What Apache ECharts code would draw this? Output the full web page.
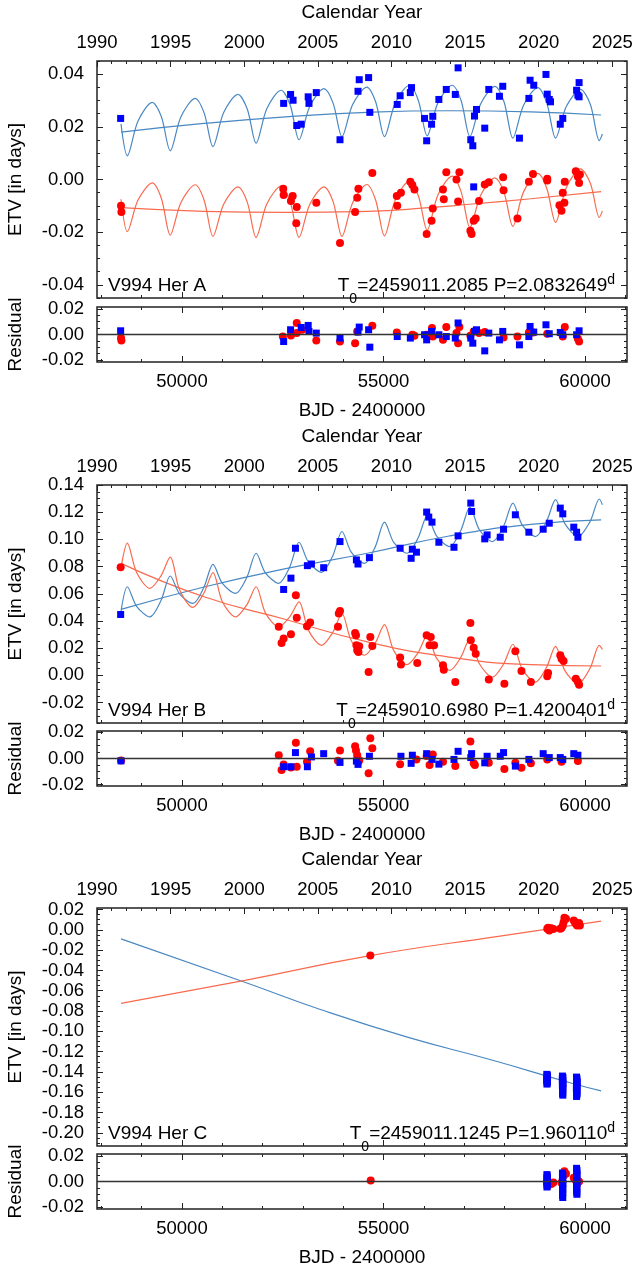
<!DOCTYPE html>
<html>
<head>
<meta charset="utf-8">
<title>V994 Her ETV</title>
<script src="https://cdn.jsdelivr.net/npm/echarts@6.0.0/dist/echarts.min.js"></script>
<style>
  html, body { margin: 0; padding: 0; background: #fff; }
  #chart { width: 637px; height: 1270px; }
</style>
</head>
<body>
<div id="chart"></div>
<script>
// x ranges: BJD - 2400000 on the bottom, calendar year on top (1990.0 .. 2026.0)
var bjdMin = 47892.5, bjdMax = 61041.5;
var yearMin = 1990, yearMax = 2026;
var bjdTicks = [50000, 55000, 60000];
var yearTicks = [1990, 1995, 2000, 2005, 2010, 2015, 2020, 2025];
var resTicks = [-0.02, 0, 0.02];
var etvTicksA = [-0.04, -0.02, 0, 0.02, 0.04];
var etvTicksB = [-0.02, 0, 0.02, 0.04, 0.06, 0.08, 0.10, 0.12, 0.14];
var etvTicksC = [-0.20, -0.18, -0.16, -0.14, -0.12, -0.10, -0.08, -0.06, -0.04, -0.02, 0, 0.02];

// ---- V994 Her A ----
var aBlueSq = [[48479,0.0232],[52523,0.0289],[52695,0.0323],[52757,0.0301],[52848,0.0205],[52958,0.0210],[53132,0.0314],[53151,0.0289],[53333,0.0330],[53921,0.0151],[54368,0.0335],[54398,0.0379],[54631,0.0387],[54661,0.0255],[55341,0.0285],[55413,0.0318],[55666,0.0330],[55696,0.0349],[56019,0.0232],[56071,0.0147],[56193,0.0210],[56223,0.0240],[56374,0.0304],[56558,0.0342],[56782,0.0323],[56851,0.0424],[57166,0.0151],[57216,0.0128],[57258,0.0241],[57308,0.0266],[57238,-0.0028],[57512,0.0195],[57613,0.0342],[57877,0.0316],[57959,0.0354],[58373,0.0157],[58607,0.0308],[58637,0.0377],[58728,0.0358],[59031,0.0399],[59063,0.0324],[59113,0.0304],[59143,0.0295],[59386,0.0210],[59448,0.0232],[59791,0.0339],[59823,0.0320],[59853,0.0368],[59853,0.0314]];
var aRedCi = [[48488,-0.0100],[48498,-0.0123],[52513,-0.0035],[52523,-0.0059],[52704,-0.0082],[52747,-0.0063],[52848,-0.0104],[52836,-0.0166],[53333,-0.0088],[53921,-0.0241],[54296,-0.0123],[54348,-0.0069],[54378,-0.0035],[54723,0.0025],[55331,-0.0063],[55341,-0.0100],[55433,-0.0050],[55666,-0.0009],[55716,-0.0021],[55768,-0.0038],[56071,-0.0207],[56193,-0.0157],[56223,-0.0110],[56476,-0.0038],[56496,-0.0075],[56558,0.0028],[56811,0.0000],[56851,-0.0084],[56883,0.0028],[57156,-0.0195],[57186,-0.0207],[57238,-0.0157],[57288,-0.0148],[57370,-0.0082],[57512,-0.0019],[57613,-0.0010],[57969,0.0009],[57979,-0.0041],[58324,-0.0148],[58607,-0.0009],[58709,0.0021],[59063,0.0003],[59063,-0.0004],[59366,-0.0098],[59416,-0.0119],[59448,-0.0050],[59488,-0.0088],[59498,-0.0009],[59771,0.0031],[59823,0.0010],[59853,-0.0013],[59873,0.0019]];
var aBlueFit = [[48488,0.0211],[48645,0.0090],[48910,0.0222],[49263,0.0293],[49490,0.0238],[49710,0.0109],[49975,0.0238],[50328,0.0308],[50550,0.0253],[50770,0.0125],[51035,0.0254],[51388,0.0323],[51620,0.0268],[51840,0.0138],[52105,0.0269],[52458,0.0339],[52685,0.0283],[52905,0.0151],[53170,0.0277],[53523,0.0345],[53750,0.0290],[53970,0.0163],[54235,0.0285],[54588,0.0351],[54805,0.0295],[55025,0.0163],[55290,0.0290],[55643,0.0358],[55865,0.0300],[56085,0.0166],[56350,0.0291],[56703,0.0358],[56925,0.0300],[57145,0.0163],[57410,0.0287],[57763,0.0354],[57990,0.0295],[58210,0.0157],[58475,0.0282],[58828,0.0349],[59050,0.0291],[59270,0.0157],[59535,0.0277],[59888,0.0342],[60135,0.0284],[60355,0.0148],[60431,0.0173]];
var aRedFit = [[48488,-0.0075],[48645,-0.0198],[48910,-0.0078],[49263,-0.0013],[49490,-0.0072],[49710,-0.0211],[49975,-0.0087],[50328,-0.0020],[50550,-0.0079],[50770,-0.0216],[51035,-0.0094],[51388,-0.0028],[51620,-0.0086],[51840,-0.0220],[52105,-0.0093],[52458,-0.0025],[52685,-0.0084],[52905,-0.0220],[53170,-0.0095],[53523,-0.0028],[53750,-0.0084],[53970,-0.0216],[54235,-0.0088],[54588,-0.0019],[54805,-0.0078],[55025,-0.0214],[55290,-0.0079],[55643,-0.0006],[55865,-0.0062],[56085,-0.0192],[56350,-0.0059],[56703,0.0013],[56925,-0.0046],[57145,-0.0182],[57410,-0.0060],[57763,0.0006],[57990,-0.0049],[58210,-0.0178],[58475,-0.0047],[58828,0.0023],[59050,-0.0033],[59270,-0.0163],[59535,-0.0031],[59888,0.0040],[60135,-0.0015],[60355,-0.0144],[60431,-0.0119]];
var aBlueTrend = [[48488,0.0180],[50547,0.0213],[52573,0.0238],[54601,0.0255],[56630,0.0261],[58656,0.0257],[60399,0.0245]];
var aRedTrend = [[48488,-0.0107],[50547,-0.0121],[52573,-0.0125],[54601,-0.0121],[56123,-0.0107],[57136,-0.0094],[58656,-0.0073],[60399,-0.0046]];
var aRedRes = [[48488,-0.0028],[48498,-0.0047],[52503,-0.0016],[52704,-0.0008],[52848,0.0090],[52848,0.0011],[52980,0.0037],[53333,-0.0047],[53921,-0.0055],[54296,-0.0068],[54348,0.0024],[54723,0.0068],[55331,0.0016],[55716,-0.0002],[55768,-0.0010],[56071,-0.0002],[56203,0.0050],[56223,-0.0016],[56476,-0.0042],[56558,0.0058],[56811,0.0011],[56851,-0.0068],[56883,0.0058],[57156,-0.0010],[57238,0.0024],[57370,0.0011],[57512,0.0019],[57979,-0.0024],[58324,-0.0016],[58607,0.0016],[58709,0.0016],[59063,0.0006],[59448,-0.0016],[59498,0.0058],[59823,-0.0034],[59853,-0.0055]];
var aBlueRes = [[48479,0.0029],[52523,-0.0055],[52695,0.0037],[52958,0.0055],[53132,0.0071],[53151,0.0024],[53333,0.0011],[53921,-0.0028],[54368,0.0019],[54398,0.0058],[54631,0.0037],[54661,-0.0099],[55341,-0.0016],[55666,-0.0028],[56019,-0.0002],[56071,-0.0042],[56193,0.0024],[56374,-0.0002],[56558,-0.0016],[56782,-0.0028],[56851,0.0090],[57166,-0.0028],[57216,-0.0068],[57258,0.0024],[57308,0.0037],[57512,-0.0128],[57613,0.0011],[57877,-0.0042],[57959,0.0024],[58373,-0.0081],[58607,-0.0016],[58637,0.0063],[58728,0.0019],[59031,0.0076],[59113,0.0006],[59386,0.0016],[59448,-0.0002],[59791,-0.0002],[59853,0.0029]];

// ---- V994 Her B ----
var bBlueSq = [[48479,0.0448],[52523,0.0632],[52704,0.0715],[52816,0.0935],[53112,0.0807],[53213,0.0819],[53516,0.0792],[53921,0.0984],[54328,0.0849],[54368,0.0819],[54651,0.0866],[55413,0.0935],[55686,0.0861],[55716,0.0928],[55818,0.0906],[56071,0.1201],[56123,0.1164],[56203,0.1127],[56374,0.0979],[56749,0.0942],[56851,0.1026],[57166,0.1267],[57186,0.1205],[57512,0.1004],[57571,0.1033],[57897,0.1016],[57979,0.1075],[58272,0.1181],[58607,0.1053],[58962,0.1075],[59113,0.1119],[59386,0.1230],[59448,0.1188],[59721,0.1090],[59791,0.1053],[59823,0.1016]];
var bRedCi = [[48479,0.0795],[52402,0.0357],[52471,0.0238],[52523,0.0271],[52704,0.0303],[52826,0.0590],[52848,0.0423],[53102,0.0362],[53181,0.0389],[53871,0.0357],[53891,0.0455],[53921,0.0474],[54296,0.0312],[54318,0.0295],[54328,0.0221],[54348,0.0185],[54378,0.0172],[54398,0.0214],[54631,0.0025],[54673,0.0283],[54723,0.0216],[55413,0.0131],[55433,0.0081],[55838,0.0091],[56071,0.0295],[56173,0.0283],[56143,0.0221],[56255,0.0221],[56476,0.0074],[56496,0.0042],[56782,-0.0049],[57156,0.0386],[57166,0.0258],[57238,0.0204],[57288,0.0160],[57613,-0.0030],[57999,-0.0061],[58272,0.0177],[58423,0.0032],[58656,-0.0049],[59063,-0.0007],[59083,0.0017],[59386,0.0148],[59416,0.0123],[59468,0.0106],[59771,-0.0024],[59823,-0.0049],[59853,-0.0069]];
var bBlueFit = [[48488,0.0470],[48645,0.0652],[48875,0.0508],[49205,0.0430],[49480,0.0550],[49710,0.0731],[49940,0.0600],[50270,0.0529],[50540,0.0644],[50770,0.0817],[51000,0.0678],[51330,0.0603],[51610,0.0721],[51840,0.0898],[52070,0.0754],[52400,0.0677],[52675,0.0798],[52905,0.0979],[53135,0.0835],[53465,0.0758],[53740,0.0878],[53970,0.1058],[54200,0.0906],[54530,0.0824],[54795,0.0945],[55025,0.1127],[55255,0.0978],[55585,0.0898],[55855,0.1008],[56085,0.1173],[56315,0.1026],[56645,0.0947],[56915,0.1063],[57145,0.1238],[57375,0.1073],[57705,0.0984],[57980,0.1097],[58210,0.1267],[58440,0.1107],[58770,0.1021],[59040,0.1129],[59270,0.1292],[59500,0.1116],[59830,0.1021],[60125,0.1131],[60355,0.1297],[60431,0.1255]];
var bRedFit = [[48488,0.0790],[48645,0.0972],[48875,0.0756],[49205,0.0640],[49480,0.0732],[49710,0.0869],[49940,0.0629],[50270,0.0500],[50540,0.0602],[50770,0.0755],[51000,0.0544],[51330,0.0430],[51610,0.0519],[51840,0.0652],[52070,0.0460],[52400,0.0357],[52675,0.0431],[52905,0.0541],[53135,0.0333],[53465,0.0221],[53740,0.0315],[53970,0.0455],[54200,0.0255],[54530,0.0148],[54795,0.0238],[55025,0.0374],[55255,0.0182],[55585,0.0079],[55855,0.0165],[56085,0.0295],[56315,0.0127],[56645,0.0037],[56915,0.0131],[57145,0.0271],[57375,0.0087],[57705,-0.0012],[57980,0.0084],[58210,0.0229],[58440,0.0048],[58770,-0.0049],[59040,0.0056],[59270,0.0214],[59500,0.0035],[59830,-0.0061],[60125,0.0052],[60355,0.0221],[60431,0.0190]];
var bBlueTrend = [[48488,0.0485],[50547,0.0650],[52573,0.0785],[54601,0.0898],[56630,0.1025],[58656,0.1110],[60399,0.1144]];
var bRedTrend = [[48488,0.0824],[50547,0.0578],[52573,0.0411],[54601,0.0246],[56630,0.0135],[58656,0.0079],[60399,0.0069]];
var bRedRes = [[48488,-0.0015],[52402,0.0025],[52471,-0.0088],[52523,-0.0045],[52704,-0.0068],[52826,0.0120],[52848,-0.0063],[53102,-0.0025],[53181,0.0055],[53871,-0.0018],[53921,0.0062],[54296,0.0094],[54318,0.0062],[54348,0.0025],[54378,-0.0025],[54398,-0.0013],[54631,-0.0112],[54673,0.0155],[54723,0.0079],[55413,-0.0043],[55818,-0.0007],[56071,0.0019],[56143,-0.0050],[56223,0.0030],[56476,-0.0025],[56782,-0.0058],[57156,0.0130],[57238,-0.0037],[57268,-0.0050],[57613,-0.0033],[57999,-0.0080],[58272,-0.0033],[58423,-0.0070],[58656,-0.0037],[59063,-0.0007],[59416,-0.0025],[59823,-0.0020]];
var bBlueRes = [[48488,-0.0018],[52523,-0.0063],[52704,-0.0063],[52816,0.0045],[53112,-0.0063],[53213,0.0012],[53516,0.0037],[53921,-0.0030],[54328,-0.0020],[54368,-0.0045],[54651,0.0017],[55433,0.0017],[55686,-0.0037],[55716,0.0025],[56071,0.0037],[56203,-0.0007],[56374,-0.0043],[56749,-0.0007],[56851,0.0055],[57166,0.0007],[57186,0.0037],[57512,-0.0033],[57571,0.0017],[57897,0.0017],[57979,0.0045],[58272,-0.0058],[58607,-0.0007],[58962,0.0037],[59113,0.0007],[59386,0.0007],[59448,-0.0007],[59721,0.0037],[59823,0.0025]];

// ---- V994 Her C ----
var cBlueSq = [[59052,-0.1424],[59066,-0.1433],[59058,-0.1446],[59070,-0.1455],[59055,-0.1468],[59063,-0.1477],[59050,-0.1489],[59068,-0.1498],[59060,-0.1509],[59057,-0.1520],
  [59440,-0.1441],[59452,-0.1456],[59436,-0.1472],[59449,-0.1486],[59443,-0.1503],[59455,-0.1518],[59438,-0.1534],[59447,-0.1549],[59451,-0.1566],[59441,-0.1582],[59446,-0.1598],[59444,-0.1613],[59449,-0.1629],
  [59788,-0.1451],[59800,-0.1467],[59794,-0.1484],[59806,-0.1499],[59791,-0.1516],[59797,-0.1531],[59803,-0.1548],[59786,-0.1563],[59798,-0.1580],[59793,-0.1595],[59801,-0.1611],[59796,-0.1626],[59790,-0.1642]];
var cRedCi = [[54673,-0.0254],[59063,0.0010],[59083,0.0021],[59113,-0.0006],[59163,0.0015],[59215,0.0007],[59386,0.0010],[59416,0.0018],[59448,0.0040],[59468,0.0075],[59488,0.0119],[59528,0.0109],[59721,0.0092],[59751,0.0075],[59771,0.0059],[59803,0.0043],[59853,0.0066],[59873,0.0043]];
var cBlueFit = [[48488,-0.0089],[51560,-0.0517],[53435,-0.0785],[55614,-0.1060],[57643,-0.1278],[59672,-0.1512],[60399,-0.1587]];
var cRedFit = [[48488,-0.0725],[51560,-0.0498],[54673,-0.0254],[57891,-0.0062],[60399,0.0085]];
var cRedRes = [[54683,0.0008],[59063,-0.0005],[59113,-0.0012],[59163,-0.0020],[59215,-0.0008],[59416,-0.0010],[59468,0.0044],[59488,0.0081],[59528,0.0060],[59721,0.0030],[59771,0.0010],[59803,-0.0005],[59853,0.0000]];
var cBlueRes = [[59055,0.0054],[59064,0.0043],[59058,0.0031],[59061,0.0020],[59067,0.0009],[59053,-0.0002],[59062,-0.0013],[59059,-0.0024],[59065,-0.0034],[59056,-0.0043],
  [59440,0.0066],[59450,0.0050],[59443,0.0033],[59447,0.0017],[59438,0.0001],[59452,-0.0015],[59445,-0.0031],[59441,-0.0047],[59449,-0.0063],[59444,-0.0079],[59446,-0.0094],[59442,-0.0110],[59448,-0.0125],
  [59790,0.0103],[59800,0.0086],[59795,0.0069],[59803,0.0052],[59788,0.0035],[59797,0.0018],[59792,0.0001],[59801,-0.0016],[59794,-0.0033],[59798,-0.0050],[59791,-0.0067],[59796,-0.0084],[59799,-0.0100]];

var panels = [
  { name: 'V994 Her A', t0: '2459011.2085', per: '2.0832649', yMin: -0.045, yMax: 0.045, yTicks: etvTicksA, rLim: 0.0215, top: 61, h: 237, rTop: 307,
    sq: aBlueSq, ci: aRedCi, blueFit: aBlueFit, redFit: aRedFit, blueTrend: aBlueTrend, redTrend: aRedTrend, sqRes: aBlueRes, ciRes: aRedRes },
  { name: 'V994 Her B', t0: '2459010.6980', per: '1.4200401', yMin: -0.035, yMax: 0.14, yTicks: etvTicksB, rLim: 0.021, top: 485, h: 238, rTop: 731,
    sq: bBlueSq, ci: bRedCi, blueFit: bBlueFit, redFit: bRedFit, blueTrend: bBlueTrend, redTrend: bRedTrend, sqRes: bBlueRes, ciRes: bRedRes },
  { name: 'V994 Her C', t0: '2459011.1245', per: '1.960110', yMin: -0.213, yMax: 0.0215, yTicks: etvTicksC, rLim: 0.0215, top: 908, h: 238, rTop: 1154,
    sq: cBlueSq, ci: cRedCi, blueFit: cBlueFit, redFit: cRedFit, blueTrend: null, redTrend: null, sqRes: cBlueRes, ciRes: cRedRes }
];

var FONT = '"Liberation Sans", Arial, Helvetica, sans-serif';
var RES_H = 55;
var BLUE_LINE = '#4a88c2', RED_LINE = '#f86a4e';

function steps(a, b, step) {
  var r = [];
  for (var k = Math.ceil(a / step - 1e-9); k * step <= b + 1e-9; k++) r.push(+(k * step).toFixed(6));
  return r;
}
var bjdMinor = steps(bjdMin, bjdMax, 1000);
var yearMinor = steps(yearMin, yearMax - 0.5, 1);

function fmtInt(v) { return String(Math.round(v)); }
function fmt2(v) { return (Math.abs(v) < 1e-9 ? 0 : v).toFixed(2); }

function ax(grid, pos, min, max, ticks, len, labels, fmt, margin) {
  var a = {
    type: 'value', gridIndex: grid, position: pos, min: min, max: max,
    axisLine: { show: false, onZero: false },
    splitLine: { show: false },
    axisTick: { show: true, inside: true, length: len, customValues: ticks, lineStyle: { color: '#222', width: 1 } },
    axisLabel: { show: false }
  };
  if (labels) {
    a.axisLabel = { show: true, customValues: labels, formatter: fmt, margin: margin,
      fontSize: 18.5, fontFamily: FONT, color: '#000' };
  }
  return a;
}

var grids = [], xAxes = [], yAxes = [], series = [], texts = [];

function lineS(data, color, g, smooth) {
  return { type: 'line', data: data, xAxisIndex: 4 * g, yAxisIndex: 4 * g, symbol: 'none', showSymbol: false,
    smooth: smooth, silent: true, z: 2, lineStyle: { color: color, width: 1.2 } };
}
function dotS(data, square, g) {
  return { type: 'scatter', data: data, xAxisIndex: 4 * g, yAxisIndex: 4 * g, silent: true, z: square ? 4 : 3,
    symbol: square ? 'rect' : 'circle', symbolSize: square ? 7 : 8,
    itemStyle: { color: square ? '#0000ff' : '#ff0000', opacity: 1 } };
}
function text(x, y, str, extra) {
  var el = { type: 'text', x: x, y: y, silent: true,
    style: { text: str, fontSize: 19, fontFamily: FONT, fill: '#000', align: 'center', verticalAlign: 'middle' } };
  for (var k in extra) {
    if (k === 'style') { for (var s in extra.style) el.style[s] = extra.style[s]; }
    else el[k] = extra[k];
  }
  return el;
}

panels.forEach(function (p, i) {
  var gm = 2 * i, gr = 2 * i + 1;
  var bottom = p.top + p.h, rBottom = p.rTop + RES_H;
  grids.push({ left: 97, width: 530, top: p.top, height: p.h, show: true, borderColor: '#222', borderWidth: 1.5, outerBoundsMode: 'none' });
  grids.push({ left: 97, width: 530, top: p.rTop, height: RES_H, show: true, borderColor: '#222', borderWidth: 1.5, outerBoundsMode: 'none' });

  // main panel axes
  xAxes.push(ax(gm, 'bottom', bjdMin, bjdMax, bjdTicks, 6));
  xAxes.push(ax(gm, 'bottom', bjdMin, bjdMax, bjdMinor, 3));
  xAxes.push(ax(gm, 'top', yearMin, yearMax, yearTicks, 6, yearTicks, fmtInt, 9));
  xAxes.push(ax(gm, 'top', yearMin, yearMax, yearMinor, 3));
  var yMinor = steps(p.yMin, p.yMax, 0.005);
  yAxes.push(ax(gm, 'left', p.yMin, p.yMax, p.yTicks, 6, p.yTicks, fmt2, 13));
  yAxes.push(ax(gm, 'left', p.yMin, p.yMax, yMinor, 3));
  yAxes.push(ax(gm, 'right', p.yMin, p.yMax, p.yTicks, 6));
  yAxes.push(ax(gm, 'right', p.yMin, p.yMax, yMinor, 3));

  // residual panel axes
  xAxes.push(ax(gr, 'bottom', bjdMin, bjdMax, bjdTicks, 6, bjdTicks, fmtInt, 10));
  xAxes.push(ax(gr, 'bottom', bjdMin, bjdMax, bjdMinor, 3));
  xAxes.push(ax(gr, 'top', bjdMin, bjdMax, bjdTicks, 6));
  xAxes.push(ax(gr, 'top', bjdMin, bjdMax, bjdMinor, 3));
  var rMinor = steps(-p.rLim, p.rLim, 0.005);
  yAxes.push(ax(gr, 'left', -p.rLim, p.rLim, resTicks, 6, resTicks, fmt2, 13));
  yAxes.push(ax(gr, 'left', -p.rLim, p.rLim, rMinor, 3));
  yAxes.push(ax(gr, 'right', -p.rLim, p.rLim, resTicks, 6));
  yAxes.push(ax(gr, 'right', -p.rLim, p.rLim, rMinor, 3));

  // main series
  if (p.blueTrend) series.push(lineS(p.blueTrend, BLUE_LINE, gm, true));
  if (p.redTrend) series.push(lineS(p.redTrend, RED_LINE, gm, true));
  var fitSmooth = p.blueTrend ? 0.3 : true;
  series.push(lineS(p.blueFit, BLUE_LINE, gm, fitSmooth));
  series.push(lineS(p.redFit, RED_LINE, gm, fitSmooth));
  series.push(dotS(p.ci, false, gm));
  series.push(dotS(p.sq, true, gm));

  // residual series
  var resRed = dotS(p.ciRes, false, gr);
  resRed.markLine = { silent: true, symbol: 'none', label: { show: false },
    lineStyle: { color: '#333', width: 1.3, type: 'solid' }, data: [{ yAxis: 0 }] };
  series.push(resRed);
  series.push(dotS(p.sqRes, true, gr));

  // labels
  texts.push(text(362, p.top - 48, 'Calendar Year'));
  texts.push(text(362, rBottom + 49, 'BJD - 2400000'));
  texts.push(text(16, p.top + p.h / 2, 'ETV [in days]', { rotation: Math.PI / 2 }));
  texts.push(text(16, p.rTop + RES_H / 2, 'Residual', { rotation: Math.PI / 2 }));
  texts.push(text(108, bottom - 12, p.name, { style: { align: 'left' } }));
  texts.push(text(615, bottom - 12, '{m|T}{s|0}{m|=' + p.t0 + ' P=' + p.per + '}{u|d}', { style: {
    align: 'right',
    rich: {
      m: { fontSize: 19, lineHeight: 41, fontFamily: FONT, fill: '#000' },
      s: { fontSize: 14, lineHeight: 14, fontFamily: FONT, fill: '#000', verticalAlign: 'bottom' },
      u: { fontSize: 14, lineHeight: 14, fontFamily: FONT, fill: '#000', verticalAlign: 'top', padding: [8, 0, 0, 0] }
    } } }));
});

var chart = echarts.init(document.getElementById('chart'), null, { renderer: 'canvas' });
chart.setOption({
  animation: false,
  backgroundColor: '#fff',
  grid: grids,
  xAxis: xAxes,
  yAxis: yAxes,
  series: series,
  graphic: { elements: texts }
});
</script>
</body>
</html>
